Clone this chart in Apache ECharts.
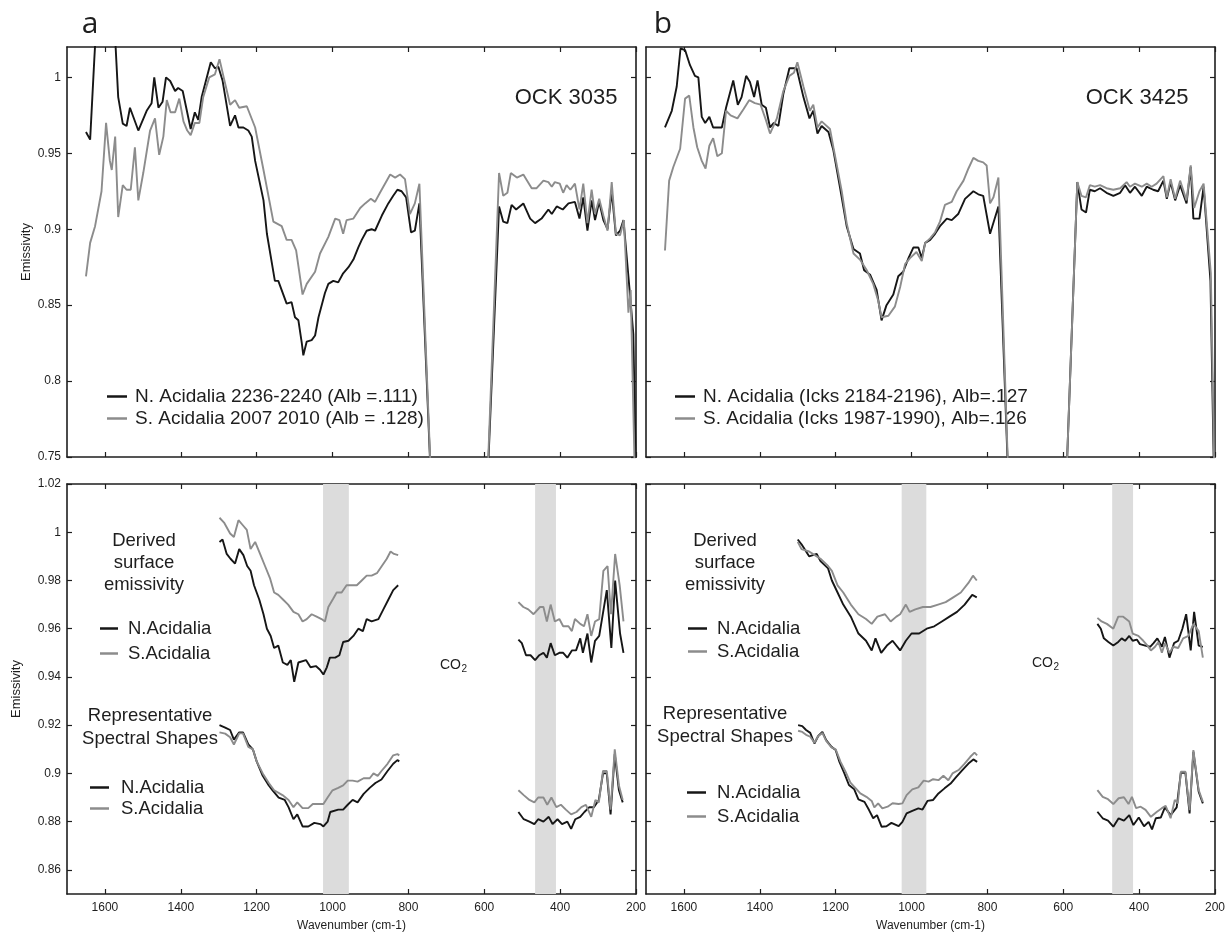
<!DOCTYPE html>
<html>
<head>
<meta charset="utf-8">
<script src="https://cdn.jsdelivr.net/npm/echarts@6/dist/echarts.min.js"></script>
<style>html,body{margin:0;padding:0;background:#fff;}#c{width:1228px;height:934px;}</style>
</head>
<body>
<div id="c"></div>
<script>
// ---------- tick labels ----------
const xTicks = [1600, 1400, 1200, 1000, 800, 600, 400, 200];
const yTicksTop = [0.75, 0.8, 0.85, 0.9, 0.95, 1];
const yTicksBottom = [0.86, 0.88, 0.9, 0.92, 0.94, 0.96, 0.98, 1, 1.02];

// ---------- series names ----------
const aTopNName = 'N. Acidalia 2236-2240 (Alb =.111)';
const aTopSName = 'S. Acidalia 2007 2010 (Alb = .128)';
const bTopNName = 'N. Acidalia (Icks 2184-2196), Alb=.127';
const bTopSName = 'S. Acidalia (Icks 1987-1990), Alb=.126';
const nName = 'N.Acidalia';
const sName = 'S.Acidalia';

// ---------- panel a, top ----------
const aTopN_wn = [1650,1639,1628,1615,1595,1578,1565,1553,1543,1534,1512,1490,1477,1470,1459,1448,1439,1428,1415,1407,1395,1384,1374,1363,1354,1345,1321,1310,1301,1290,1270,1257,1248,1235,1222,1213,1204,1182,1173,1152,1143,1121,1108,1099,1090,1081,1077,1068,1055,1046,1037,1020,1011,998,985,972,958,945,932,923,910,897,888,870,853,840,829,818,806,793,783,771,735,
  597,561,550,539,528,516,497,479,466,449,431,422,409,393,378,361,349,339,328,317,308,297,286,275,264,253,242,233,220,207,196];
const aTopN_em = [0.964,0.959,1.012,1.07,1.08,1.05,0.987,0.9695,0.968,0.980,0.965,0.978,0.983,1.0,0.980,0.984,1.0,0.9976,0.991,0.993,0.991,0.978,0.966,0.977,0.972,0.987,1.010,1.006,1.007,0.998,0.968,0.975,0.967,0.967,0.965,0.961,0.945,0.919,0.897,0.866,0.866,0.851,0.852,0.842,0.840,0.825,0.817,0.826,0.827,0.830,0.842,0.858,0.864,0.866,0.865,0.871,0.875,0.880,0.888,0.893,0.899,0.900,0.899,0.909,0.917,0.922,0.926,0.925,0.921,0.898,0.899,0.917,0.70,
  0.70,0.915,0.905,0.904,0.916,0.913,0.917,0.907,0.904,0.907,0.913,0.910,0.915,0.913,0.917,0.918,0.907,0.921,0.899,0.919,0.906,0.918,0.906,0.900,0.925,0.896,0.899,0.906,0.869,0.831,0.68];
const aTopS_wn = [1650,1639,1626,1609,1597,1587,1582,1573,1565,1553,1543,1532,1521,1512,1499,1481,1468,1457,1446,1437,1427,1415,1404,1393,1383,1374,1363,1351,1341,1325,1310,1298,1286,1270,1257,1246,1226,1204,1182,1156,1134,1121,1108,1096,1079,1068,1046,1033,1011,993,982,972,963,945,927,914,899,888,875,848,835,822,809,796,783,771,735,
  597,561,550,539,530,514,497,475,462,444,431,422,414,401,392,383,373,361,349,339,328,317,308,297,286,275,264,253,242,232,220,214,198];
const aTopS_em = [0.869,0.891,0.902,0.925,0.970,0.945,0.939,0.961,0.908,0.929,0.926,0.926,0.954,0.919,0.937,0.965,0.973,0.949,0.961,0.985,0.977,0.977,0.986,0.971,0.965,0.962,0.970,0.970,0.987,1.000,1.002,1.012,0.999,0.982,0.985,0.980,0.981,0.967,0.939,0.905,0.902,0.893,0.893,0.886,0.857,0.864,0.872,0.884,0.895,0.907,0.906,0.897,0.906,0.907,0.914,0.917,0.920,0.918,0.924,0.936,0.934,0.936,0.933,0.910,0.917,0.930,0.70,
  0.70,0.937,0.922,0.924,0.937,0.934,0.936,0.927,0.927,0.932,0.931,0.928,0.931,0.930,0.924,0.929,0.926,0.930,0.913,0.930,0.904,0.926,0.910,0.920,0.909,0.899,0.931,0.897,0.896,0.906,0.845,0.860,0.68];

// ---------- panel b, top ----------
const bTopN_wn = [1650,1632,1619,1609,1597,1584,1571,1562,1553,1544,1533,1523,1500,1489,1470,1458,1448,1436,1426,1415,1406,1395,1384,1373,1363,1351,1338,1322,1303,1285,1269,1259,1248,1237,1219,1206,1189,1171,1153,1136,1125,1109,1092,1079,1066,1048,1035,1022,1008,995,982,973,964,951,938,925,907,894,877,859,837,824,811,793,771,740,
  597,563,552,540,530,517,503,486,468,450,437,424,411,393,380,363,350,336,327,317,305,292,275,264,257,241,230,212,200];
const bTopN_em = [0.967,0.978,0.994,1.019,1.018,1.008,1.001,1.000,0.974,0.970,0.974,0.967,0.967,0.980,0.998,0.982,0.987,1.001,0.997,0.987,0.998,0.982,0.980,0.967,0.970,0.968,0.989,1.006,1.006,0.987,0.973,0.978,0.963,0.968,0.964,0.952,0.928,0.902,0.887,0.884,0.873,0.870,0.860,0.840,0.850,0.857,0.869,0.872,0.881,0.888,0.888,0.881,0.891,0.893,0.897,0.902,0.907,0.906,0.910,0.920,0.925,0.923,0.922,0.897,0.915,0.70,
  0.70,0.931,0.913,0.911,0.926,0.925,0.927,0.924,0.922,0.924,0.929,0.924,0.928,0.922,0.928,0.926,0.925,0.932,0.920,0.931,0.919,0.929,0.917,0.941,0.907,0.907,0.928,0.866,0.70];
const bTopS_wn = [1650,1639,1628,1610,1597,1586,1575,1565,1553,1543,1533,1523,1512,1500,1489,1477,1459,1443,1428,1413,1398,1384,1373,1355,1338,1322,1310,1301,1285,1268,1259,1248,1237,1215,1206,1184,1171,1153,1136,1118,1101,1088,1079,1061,1044,1030,1017,1004,987,973,964,951,938,925,912,894,881,863,850,837,824,811,802,793,784,771,740,
  597,563,552,540,530,517,503,486,468,450,433,424,411,393,380,367,354,336,327,317,305,292,275,264,255,241,230,211,199];
const bTopS_em = [0.886,0.932,0.941,0.953,0.986,0.988,0.967,0.954,0.945,0.940,0.955,0.960,0.948,0.950,0.978,0.975,0.973,0.979,0.985,0.983,0.982,0.972,0.963,0.973,0.991,1.001,1.003,1.010,0.994,0.978,0.982,0.967,0.971,0.966,0.954,0.925,0.904,0.884,0.880,0.873,0.864,0.853,0.842,0.843,0.849,0.862,0.877,0.881,0.885,0.879,0.891,0.894,0.898,0.905,0.916,0.918,0.925,0.932,0.940,0.947,0.945,0.944,0.942,0.917,0.921,0.934,0.70,
  0.70,0.931,0.922,0.921,0.929,0.928,0.929,0.927,0.926,0.927,0.931,0.928,0.930,0.928,0.930,0.928,0.930,0.935,0.921,0.933,0.920,0.932,0.919,0.942,0.914,0.925,0.930,0.871,0.70];

// ---------- panel a, bottom: derived surface emissivity ----------
const aDerN1_wn = [1298,1290,1279,1269,1257,1246,1235,1225,1216,1207,1193,1182,1173,1163,1154,1143,1131,1119,1110,1101,1090,1070,1058,1044,1033,1024,1015,1007,993,982,972,958,945,932,920,910,897,879,866,853,840,827];
const aDerN1_em = [0.996,0.997,0.991,0.989,0.987,0.993,0.9905,0.986,0.984,0.978,0.972,0.966,0.960,0.957,0.952,0.953,0.946,0.945,0.947,0.938,0.946,0.947,0.944,0.9445,0.943,0.941,0.944,0.948,0.948,0.949,0.9545,0.955,0.957,0.960,0.959,0.964,0.963,0.964,0.968,0.972,0.976,0.978];
const aDerN2_wn = [510,501,490,478,466,455,444,435,425,414,402,392,381,369,358,347,340,328,318,308,297,277,265,255,242,233];
const aDerN2_em = [0.9555,0.954,0.949,0.949,0.947,0.949,0.950,0.948,0.954,0.949,0.950,0.950,0.948,0.951,0.951,0.956,0.950,0.958,0.946,0.955,0.957,0.976,0.952,0.980,0.958,0.950];
const aDerS1_wn = [1298,1286,1270,1260,1248,1237,1226,1216,1204,1191,1178,1165,1154,1143,1130,1117,1103,1090,1079,1068,1055,1042,1029,1020,1011,998,989,976,963,949,936,923,910,897,883,870,857,847,838,827];
const aDerS1_em = [1.006,1.004,0.9995,0.998,1.005,1.003,1.001,0.993,0.996,0.991,0.986,0.981,0.975,0.974,0.972,0.970,0.967,0.966,0.963,0.964,0.966,0.965,0.964,0.963,0.969,0.9725,0.975,0.975,0.978,0.978,0.978,0.980,0.982,0.982,0.983,0.986,0.989,0.992,0.991,0.9905];
const aDerS2_wn = [510,497,484,470,453,444,435,425,414,402,392,378,369,361,347,337,328,318,308,297,286,275,266,255,243,233];
const aDerS2_em = [0.971,0.969,0.968,0.966,0.969,0.969,0.963,0.970,0.963,0.964,0.961,0.961,0.959,0.964,0.962,0.961,0.966,0.957,0.963,0.964,0.984,0.986,0.966,0.991,0.978,0.963];

// ---------- panel a, bottom: representative spectral shapes ----------
const aRepN1_wn = [1298,1283,1270,1260,1246,1236,1222,1210,1200,1184,1168,1158,1142,1126,1116,1103,1093,1079,1064,1048,1032,1024,1013,1006,985,972,960,947,934,918,902,887,871,855,840,829,824];
const aRepN1_em = [0.920,0.919,0.918,0.914,0.917,0.917,0.912,0.910,0.905,0.899,0.895,0.893,0.890,0.889,0.886,0.881,0.883,0.878,0.878,0.8795,0.879,0.878,0.880,0.884,0.885,0.885,0.887,0.889,0.888,0.8915,0.894,0.896,0.8975,0.901,0.904,0.9055,0.905];
const aRepN2_wn = [510,496,481,468,458,444,430,420,407,395,381,371,360,347,336,323,311,298,287,277,267,256,245,235];
const aRepN2_em = [0.884,0.881,0.880,0.879,0.881,0.880,0.882,0.879,0.881,0.879,0.880,0.877,0.881,0.882,0.884,0.886,0.886,0.889,0.900,0.900,0.883,0.908,0.893,0.888];
const aRepS1_wn = [1298,1283,1270,1260,1246,1236,1222,1210,1200,1184,1168,1154,1132,1116,1103,1093,1079,1064,1052,1036,1024,1013,1000,985,972,960,947,934,918,902,892,881,871,855,840,829,824];
const aRepS1_em = [0.917,0.9165,0.915,0.912,0.9166,0.9166,0.911,0.910,0.905,0.900,0.896,0.893,0.891,0.889,0.886,0.888,0.8856,0.8856,0.8873,0.8873,0.8873,0.890,0.893,0.894,0.895,0.897,0.897,0.8966,0.898,0.898,0.900,0.899,0.901,0.904,0.9075,0.908,0.9075];
const aRepS2_wn = [510,496,481,468,458,444,434,423,410,398,385,371,357,344,332,318,307,298,287,277,267,256,245,235];
const aRepS2_em = [0.893,0.891,0.889,0.888,0.890,0.890,0.887,0.890,0.886,0.887,0.885,0.883,0.884,0.886,0.887,0.882,0.889,0.888,0.901,0.901,0.885,0.910,0.895,0.889];

// ---------- panel b, bottom: derived surface emissivity ----------
const bDerN1_wn = [1300,1290,1270,1250,1240,1220,1210,1195,1180,1160,1140,1120,1105,1095,1080,1065,1050,1030,1015,1000,980,960,940,920,900,880,860,840,828];
const bDerN1_em = [0.997,0.995,0.990,0.991,0.988,0.985,0.980,0.975,0.970,0.965,0.958,0.955,0.951,0.956,0.950,0.953,0.955,0.951,0.955,0.958,0.958,0.960,0.961,0.963,0.965,0.967,0.970,0.974,0.973];
const bDerN2_wn = [510,501,493,481,468,455,446,437,426,417,406,398,384,371,362,352,340,332,320,308,297,286,276,264,255,243,232];
const bDerN2_em = [0.962,0.960,0.956,0.9545,0.953,0.9545,0.956,0.955,0.957,0.955,0.9555,0.9536,0.953,0.9525,0.954,0.956,0.9525,0.9566,0.948,0.954,0.955,0.960,0.966,0.951,0.967,0.953,0.9525];
const bDerS1_wn = [1300,1290,1270,1250,1240,1220,1210,1195,1180,1160,1140,1120,1105,1090,1070,1055,1040,1030,1015,1005,990,970,950,930,910,890,870,850,838,828];
const bDerS1_em = [0.996,0.993,0.992,0.990,0.989,0.986,0.984,0.978,0.975,0.970,0.966,0.964,0.962,0.965,0.966,0.963,0.965,0.966,0.970,0.967,0.968,0.969,0.969,0.970,0.971,0.973,0.975,0.979,0.982,0.980];
const bDerS2_wn = [510,499,485,468,455,442,426,417,402,389,378,369,358,349,340,332,320,310,297,284,270,257,243,232];
const bDerS2_em = [0.9645,0.963,0.962,0.960,0.965,0.965,0.963,0.958,0.957,0.955,0.953,0.951,0.9525,0.9545,0.950,0.954,0.950,0.9525,0.952,0.956,0.957,0.962,0.959,0.948];

// ---------- panel b, bottom: representative spectral shapes ----------
const bRepN1_wn = [1299,1288,1278,1267,1256,1246,1235,1225,1211,1200,1190,1177,1165,1151,1140,1124,1112,1101,1091,1079,1066,1053,1034,1024,1013,998,982,971,958,943,929,913,897,882,866,850,837,827];
const bRepN1_em = [0.920,0.9196,0.918,0.9168,0.9124,0.9155,0.9172,0.9138,0.911,0.9097,0.9048,0.900,0.8952,0.8934,0.8892,0.8882,0.8848,0.8814,0.8827,0.8779,0.8781,0.8795,0.8781,0.8799,0.8834,0.8845,0.8855,0.885,0.8886,0.889,0.8917,0.8938,0.8958,0.8986,0.9014,0.9041,0.9058,0.9048];
const bRepN2_wn = [510,496,482,468,454,440,426,415,401,387,375,366,356,343,332,317,301,290,278,267,257,243,232];
const bRepN2_em = [0.8841,0.8814,0.8804,0.8779,0.8814,0.8804,0.8827,0.8786,0.8817,0.8781,0.8799,0.8768,0.8814,0.8817,0.8859,0.8827,0.8859,0.9003,0.9003,0.8834,0.909,0.8924,0.8876];
const bRepS1_wn = [1299,1288,1278,1267,1256,1246,1235,1225,1211,1200,1187,1174,1161,1147,1135,1119,1105,1098,1088,1077,1063,1050,1034,1024,1013,998,982,968,955,943,929,916,903,892,876,860,845,834,827];
const bRepS1_em = [0.9177,0.9172,0.916,0.9152,0.9127,0.9155,0.9168,0.9135,0.9108,0.910,0.9048,0.9007,0.8962,0.8938,0.8917,0.8903,0.8886,0.8859,0.8876,0.8855,0.8862,0.8876,0.8873,0.8876,0.891,0.8934,0.8942,0.897,0.8966,0.8976,0.8972,0.899,0.8972,0.900,0.9014,0.9041,0.9069,0.9086,0.9075];
const bRepS2_wn = [510,496,482,468,454,440,428,419,408,396,383,369,353,340,330,317,306,298,290,278,267,257,243,232];
const bRepS2_em = [0.8931,0.8903,0.8893,0.8873,0.8897,0.8901,0.8873,0.8903,0.8856,0.8862,0.8849,0.882,0.8841,0.8856,0.8866,0.8814,0.889,0.8876,0.9007,0.9007,0.8848,0.9097,0.8931,0.8882];

// ---------- shaded bands (wavenumber ranges) ----------
const aBands = [[1025, 957], [466, 411]];
const bBands = [[1026, 961], [471, 416]];

// =====================================================
const FONT = '"Liberation Sans", Arial, Helvetica, sans-serif';
const INK = '#1e1e1e';
const BLACK = '#161616';
const GRAY = '#8c8c8c';

const grids = [
  {left: 67, top: 47, width: 569, height: 410},
  {left: 646, top: 47, width: 569, height: 410},
  {left: 67, top: 484, width: 569, height: 410},
  {left: 646, top: 484, width: 569, height: 410}
];

const plain = v => String(v);

function xAx(gi, pos, showLabels, name) {
  return {
    type: 'value', gridIndex: gi, position: pos, min: 200, max: 1700, inverse: true,
    axisLine: {show: true, onZero: false, lineStyle: {color: INK, width: 1.6}},
    axisTick: {show: true, inside: true, length: 5, customValues: xTicks, lineStyle: {color: INK, width: 1.2}},
    axisLabel: {show: showLabels, customValues: xTicks, formatter: plain, color: INK, fontSize: 12, fontFamily: FONT, margin: 8},
    splitLine: {show: false},
    name: name || '', nameLocation: 'middle', nameGap: 26,
    nameTextStyle: {color: INK, fontSize: 12, fontFamily: FONT}
  };
}
function yAx(gi, pos, showLabels, ticks, mn, name, gap) {
  return {
    type: 'value', gridIndex: gi, position: pos, min: mn, max: 1.02,
    axisLine: {show: true, onZero: false, lineStyle: {color: INK, width: 1.6}},
    axisTick: {show: true, inside: true, length: 5, customValues: ticks, lineStyle: {color: INK, width: 1.2}},
    axisLabel: {show: showLabels, customValues: ticks, formatter: plain, color: INK, fontSize: 12, fontFamily: FONT, margin: 6},
    splitLine: {show: false},
    name: name || '', nameLocation: 'middle', nameRotate: 90, nameGap: gap || 30,
    nameTextStyle: {color: INK, fontSize: 13, fontFamily: FONT}
  };
}

const xAxis = [], yAxis = [];
for (let i = 0; i < 4; i++) {
  xAxis.push(xAx(i, 'bottom', i >= 2, i >= 2 ? 'Wavenumber (cm-1)' : ''));
  xAxis.push(xAx(i, 'top', false, ''));
  const top = i < 2;
  const nm = (i === 0 || i === 2) ? 'Emissivity' : '';
  yAxis.push(yAx(i, 'left', i === 0 || i === 2, top ? yTicksTop : yTicksBottom, top ? 0.75 : 0.85, nm, i === 0 ? 34 : 44));
  yAxis.push(yAx(i, 'right', false, top ? yTicksTop : yTicksBottom, top ? 0.75 : 0.85, '', 0));
}

function zip(wn, em) { return wn.map((w, k) => [w, em[k]]); }
function line(name, gi, wn, em, color, z) {
  return {
    type: 'line', name: name, xAxisIndex: 2 * gi, yAxisIndex: 2 * gi,
    data: zip(wn, em), showSymbol: false, symbol: 'none', color: color,
    lineStyle: {color: color, width: 1.9}, clip: true, z: z, silent: true, animation: false
  };
}
function bandSeries(gi, bands) {
  return {
    type: 'line', xAxisIndex: 2 * gi, yAxisIndex: 2 * gi, data: [], z: 1, silent: true,
    markArea: {silent: true, itemStyle: {color: '#dcdcdc'},
      data: bands.map(b => [{xAxis: b[0]}, {xAxis: b[1]}])}
  };
}

const series = [
  bandSeries(2, aBands),
  bandSeries(3, bBands),
  line(aTopNName, 0, aTopN_wn, aTopN_em, BLACK, 3),
  line(aTopSName, 0, aTopS_wn, aTopS_em, GRAY, 4),
  line(bTopNName, 1, bTopN_wn, bTopN_em, BLACK, 3),
  line(bTopSName, 1, bTopS_wn, bTopS_em, GRAY, 4),
  line(nName, 2, aDerN1_wn, aDerN1_em, BLACK, 3),
  line(nName, 2, aDerN2_wn, aDerN2_em, BLACK, 3),
  line(sName, 2, aDerS1_wn, aDerS1_em, GRAY, 4),
  line(sName, 2, aDerS2_wn, aDerS2_em, GRAY, 4),
  line(nName, 2, aRepN1_wn, aRepN1_em, BLACK, 3),
  line(nName, 2, aRepN2_wn, aRepN2_em, BLACK, 3),
  line(sName, 2, aRepS1_wn, aRepS1_em, GRAY, 4),
  line(sName, 2, aRepS2_wn, aRepS2_em, GRAY, 4),
  line(nName, 3, bDerN1_wn, bDerN1_em, BLACK, 3),
  line(nName, 3, bDerN2_wn, bDerN2_em, BLACK, 3),
  line(sName, 3, bDerS1_wn, bDerS1_em, GRAY, 4),
  line(sName, 3, bDerS2_wn, bDerS2_em, GRAY, 4),
  line(nName, 3, bRepN1_wn, bRepN1_em, BLACK, 3),
  line(nName, 3, bRepN2_wn, bRepN2_em, BLACK, 3),
  line(sName, 3, bRepS1_wn, bRepS1_em, GRAY, 4),
  line(sName, 3, bRepS2_wn, bRepS2_em, GRAY, 4)
];

function leg(names, left, top, gap, w, padL, fs) {
  return {
    data: names, left: left, top: top, orient: 'vertical', padding: 0,
    itemGap: gap, itemWidth: w, itemHeight: 2.5, icon: 'rect', selectedMode: false,
    textStyle: {color: INK, fontSize: fs || 18, fontFamily: FONT, padding: [0, 0, 0, padL]}
  };
}
const legend = [
  leg([aTopNName, aTopSName], 107, 387, 3, 20, 3, 19),
  leg([bTopNName, bTopSName], 675, 387, 3, 20, 3, 19),
  leg([nName, sName], 100, 619, 6, 18, 5, 18.5),
  leg([nName, sName], 90, 778, 2, 19, 7, 18.5),
  leg([nName, sName], 688, 619, 4, 19, 5, 18.5),
  leg([nName, sName], 687, 783, 5, 19, 6, 18.5)
];

function txt(x, y, s, size, align, fam) {
  return {type: 'text', silent: true, style: {x: x, y: y, text: s, fill: INK,
    font: size + 'px ' + (fam || FONT), align: align || 'center', verticalAlign: 'middle'}};
}
const graphic = [
  txt(90, 24, 'a', 30, 'center', '"Open Sans", "Noto Sans", sans-serif'),
  txt(663, 24, 'b', 30, 'center', '"Open Sans", "Noto Sans", sans-serif'),
  txt(566, 98, 'OCK 3035', 22),
  txt(1137, 98, 'OCK 3425', 22),
  txt(144, 541, 'Derived', 18.5), txt(144, 563, 'surface', 18.5), txt(144, 585, 'emissivity', 18.5),
  txt(725, 541, 'Derived', 18.5), txt(725, 563, 'surface', 18.5), txt(725, 585, 'emissivity', 18.5),
  txt(150, 716, 'Representative', 18.5), txt(150, 739, 'Spectral Shapes', 18.5),
  txt(725, 714, 'Representative', 18.5), txt(725, 737, 'Spectral Shapes', 18.5),
  txt(440, 665, 'CO', 14, 'left'), txt(461.5, 669, '2', 10, 'left'),
  txt(1032, 663, 'CO', 14, 'left'), txt(1053.5, 667, '2', 10, 'left')
];

const chart = echarts.init(document.getElementById('c'), null, {renderer: 'canvas'});
chart.setOption({
  animation: false,
  backgroundColor: '#ffffff',
  grid: grids,
  xAxis: xAxis,
  yAxis: yAxis,
  legend: legend,
  series: series,
  graphic: graphic
});
</script>
</body>
</html>
